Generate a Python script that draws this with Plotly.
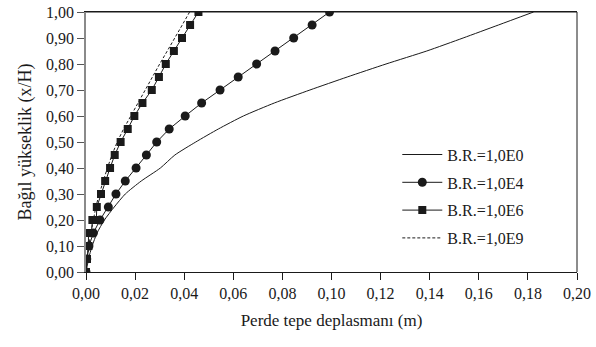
import plotly.graph_objects as go

# Relative height (x/H)
y_levels = [0.00, 0.05, 0.10, 0.15, 0.20, 0.25, 0.30, 0.35, 0.40, 0.45, 0.50,
            0.55, 0.60, 0.65, 0.70, 0.75, 0.80, 0.85, 0.90, 0.95, 1.00]

# B.R.=1,0E0 (solid line, no markers)
x_e0 = [0.0000, 0.0010, 0.0025, 0.0045, 0.0075, 0.0115, 0.0160, 0.0225, 0.0303, 0.0362, 0.0447,
        0.0539, 0.0641, 0.0767, 0.0912, 0.1064, 0.1222, 0.1388, 0.1536, 0.1680, 0.1823]

# B.R.=1,0E4 (circles)
x_e4 = [0.0000, 0.0003, 0.0012, 0.0030, 0.0057, 0.0091, 0.0122, 0.0160, 0.0204, 0.0246, 0.0288,
        0.0339, 0.0404, 0.0471, 0.0546, 0.0620, 0.0695, 0.0770, 0.0846, 0.0921, 0.0992]

# B.R.=1,0E6 (squares)
y_e6 = [0.00, 0.05, 0.10, 0.15, 0.15, 0.20, 0.20, 0.25, 0.30, 0.35, 0.40, 0.45, 0.50,
        0.55, 0.60, 0.65, 0.70, 0.75, 0.80, 0.85, 0.90, 0.95, 1.00]
x_e6 = [0.0000, 0.0004, 0.0010, 0.0010, 0.0022, 0.0026, 0.0042, 0.0044, 0.0061, 0.0078, 0.0098, 0.0117, 0.0141,
        0.0170, 0.0197, 0.0230, 0.0268, 0.0297, 0.0325, 0.0358, 0.0391, 0.0424, 0.0458]

# B.R.=1,0E9 (dashed line)
x_e9 = [0.0000, 0.0004, 0.0011, 0.0020, 0.0030, 0.0040, 0.0054, 0.0070, 0.0087, 0.0106, 0.0127,
        0.0153, 0.0182, 0.0212, 0.0243, 0.0271, 0.0300, 0.0331, 0.0360, 0.0392, 0.0422]

names = ["B.R.=1,0E0", "B.R.=1,0E4", "B.R.=1,0E6", "B.R.=1,0E9"]

x_ticks = [0.00, 0.02, 0.04, 0.06, 0.08, 0.10, 0.12, 0.14, 0.16, 0.18, 0.20]
y_ticks = [0.0, 0.1, 0.2, 0.3, 0.4, 0.5, 0.6, 0.7, 0.8, 0.9, 1.0]

ink = "#1a1a1a"
serif = "Liberation Serif, Times New Roman, DejaVu Serif, serif"

fig = go.Figure()
fig.add_trace(go.Scatter(x=x_e0, y=y_levels, name=names[0], mode="lines",
                         line=dict(color=ink, width=1, shape="spline", smoothing=0.6),
                         legendgroup="a"))
fig.add_trace(go.Scatter(x=x_e4, y=y_levels, name=names[1], mode="lines+markers",
                         line=dict(color=ink, width=1),
                         marker=dict(symbol="circle", size=9, color=ink), legendgroup="b"))
fig.add_trace(go.Scatter(x=x_e6, y=y_e6, name=names[2], mode="lines+markers",
                         line=dict(color=ink, width=1),
                         marker=dict(symbol="square", size=8, color=ink), legendgroup="c"))
fig.add_trace(go.Scatter(x=x_e9, y=y_levels, name=names[3], mode="lines",
                         line=dict(color=ink, width=1, dash="3px,2px"), legendgroup="d"))

fig.update_layout(
    width=596, height=347,
    margin=dict(l=86, r=19, t=12, b=75, autoexpand=False),
    paper_bgcolor="white", plot_bgcolor="white",
    separators=", ",
    font=dict(family=serif, color=ink, size=16),
    showlegend=True,
    legend=dict(x=0.634, y=0.29, xanchor="left", yanchor="middle",
                bgcolor="rgba(0,0,0,0)", font=dict(size=16, family=serif, color=ink),
                traceorder="grouped", tracegroupgap=4, itemwidth=40),
    xaxis=dict(range=[0, 0.20], tickvals=x_ticks, tickformat=".2f",
               showgrid=False, zeroline=False, automargin=False,
               showline=True, linecolor=ink, linewidth=1, mirror=True,
               ticks="outside", ticklen=7, tickcolor=ink, ticklabeloverflow="allow",
               tickfont=dict(size=16, family=serif, color=ink),
               title=dict(text="Perde tepe deplasmanı (m)", standoff=12,
                          font=dict(size=17, family=serif, color=ink))),
    yaxis=dict(range=[0, 1.0], tickvals=y_ticks, tickformat=".2f",
               showgrid=False, zeroline=False, automargin=False,
               showline=True, linecolor="#8a8a8a", linewidth=1.5,
               ticks="outside", ticklen=7, tickcolor="#555", ticklabeloverflow="allow",
               tickfont=dict(size=16, family=serif, color=ink),
               title=dict(text="Bağıl yükseklik (x/H)", standoff=10,
                          font=dict(size=18, family=serif, color=ink))),
    shapes=[dict(type="line", xref="paper", yref="paper", x0=1, x1=1, y0=0, y1=1,
                 line=dict(color=ink, width=1)),
            dict(type="line", xref="paper", yref="paper", x0=0, x1=1, y0=1, y1=1,
                 line=dict(color=ink, width=1))],
)

# remove the default 8px page margin so the figure fills the window exactly
fig.write_html("out.html", config={"displayModeBar": False},
               post_script="document.body.style.margin='0';")
